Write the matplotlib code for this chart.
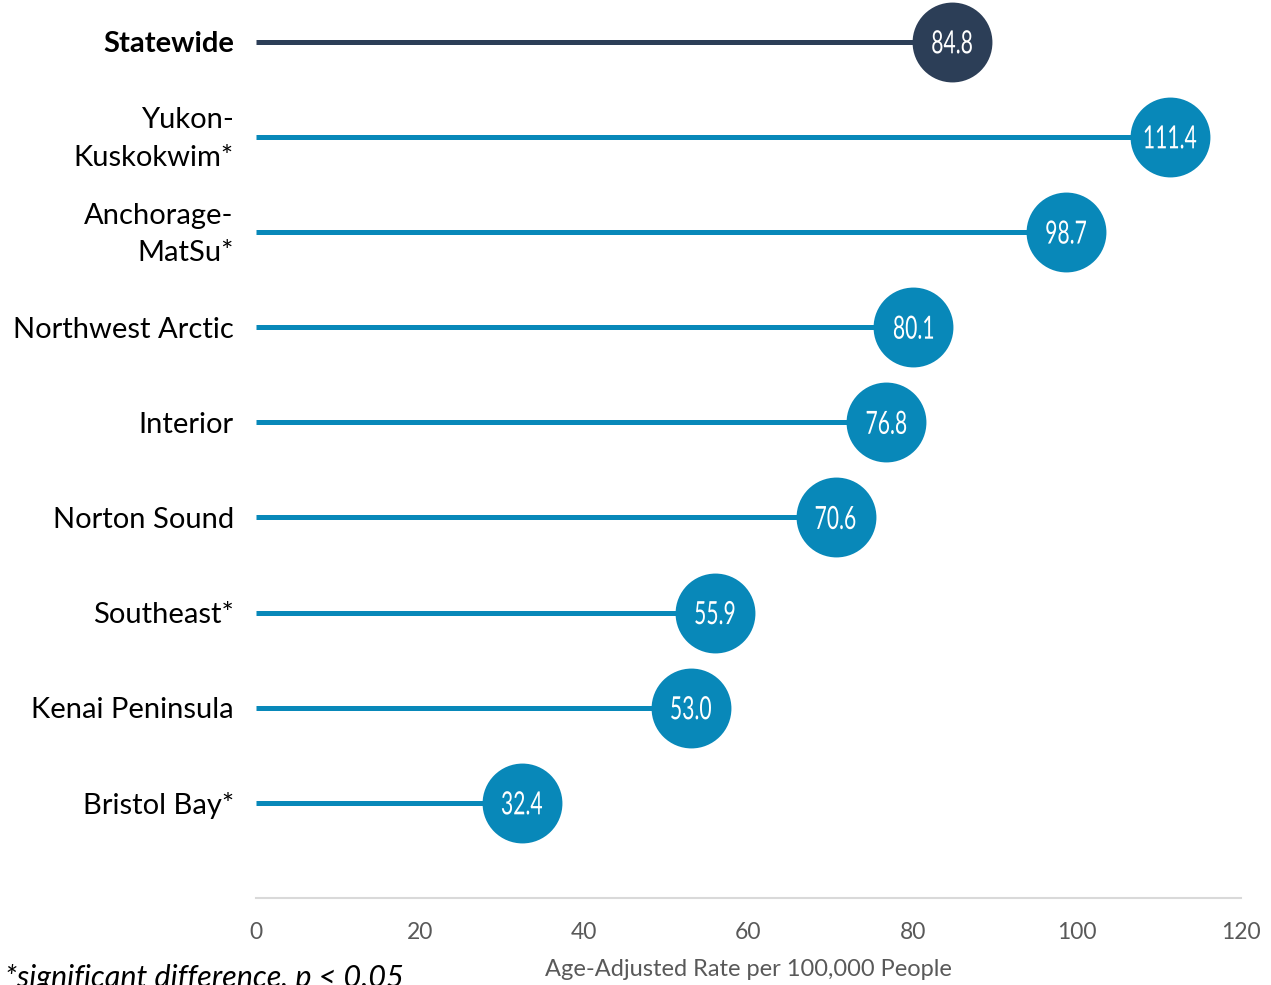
import numpy as np
import matplotlib
import matplotlib.pyplot as plt
from matplotlib.textpath import TextPath
from matplotlib.patches import PathPatch
from matplotlib.font_manager import FontProperties
from matplotlib.transforms import Affine2D, ScaledTranslation

regions = ["Statewide", "Yukon-\nKuskokwim*", "Anchorage-\nMatSu*", "Northwest Arctic",
           "Interior", "Norton Sound", "Southeast*", "Kenai Peninsula", "Bristol Bay*"]
rates = [84.8, 111.4, 98.7, 80.1, 76.8, 70.6, 55.9, 53.0, 32.4]
ticks = [0, 20, 40, 60, 80, 100, 120]

blue = "#0888b9"
navy = "#2c3e57"

plt.rcParams['font.family'] = ['Lato', 'DejaVu Sans']

fig = plt.figure(figsize=(12.71, 9.85), dpi=100)
ax = fig.add_axes([256 / 1271, 87 / 985, 985 / 1271, 898 / 985])

ypos = np.arange(len(regions))
fp = FontProperties(family='Lato', size=23)
px = fig.dpi / 72.0
for y, v in zip(ypos, rates):
    c = navy if y == 0 else blue
    ax.plot([0, v], [y, y], color=c, lw=3.6, solid_capstyle='butt', zorder=2)
    ax.plot(v, y, 'o', ms=57.5, color=c, mec='none', zorder=3)
    # condensed value label drawn as a squeezed text path
    tp = TextPath((0, 0), f"{v:.1f}", prop=fp)
    ext = tp.get_extents()
    cx = (ext.x0 + ext.x1) / 2
    cy = (ext.y0 + ext.y1) / 2
    tr = (Affine2D().translate(-cx, -cy).scale(0.66 * px, px)
          + ScaledTranslation(v, y, ax.transData))
    ax.add_patch(PathPatch(tp, transform=tr, fc='white', ec='none', zorder=4))

ax.set_xlim(0, 120)
ax.set_ylim(9, -0.44)
ax.set_xticks(ticks)
ax.set_xticklabels([str(t) for t in ticks], fontsize=16.5, color="#595959")
ax.set_yticks(ypos)
ax.set_yticklabels(regions, fontsize=21, color="black", linespacing=1.55)
ax.get_yticklabels()[0].set_fontweight('bold')
ax.tick_params(axis='both', length=0)
ax.tick_params(axis='y', pad=16)
ax.tick_params(axis='x', pad=17)
# nudge the two-line labels up a little
for lab in ax.get_yticklabels():
    if "\n" in lab.get_text():
        lab.set_transform(lab.get_transform() + ScaledTranslation(0, 0.06, fig.dpi_scale_trans))
for s in ['top', 'right', 'left']:
    ax.spines[s].set_visible(False)
ax.spines['bottom'].set_color("#d9d9d9")
ax.spines['bottom'].set_linewidth(1.5)

fig.text(748 / 1271, 16 / 985, "Age-Adjusted Rate per 100,000 People", ha='center', va='center',
         fontsize=17, color="#595959")
fig.text(5 / 1271, -7 / 985, "*significant difference, p < 0.05", ha='left', va='bottom',
         fontsize=22, style='italic', color='black')

fig.savefig("out.png", dpi=100)
